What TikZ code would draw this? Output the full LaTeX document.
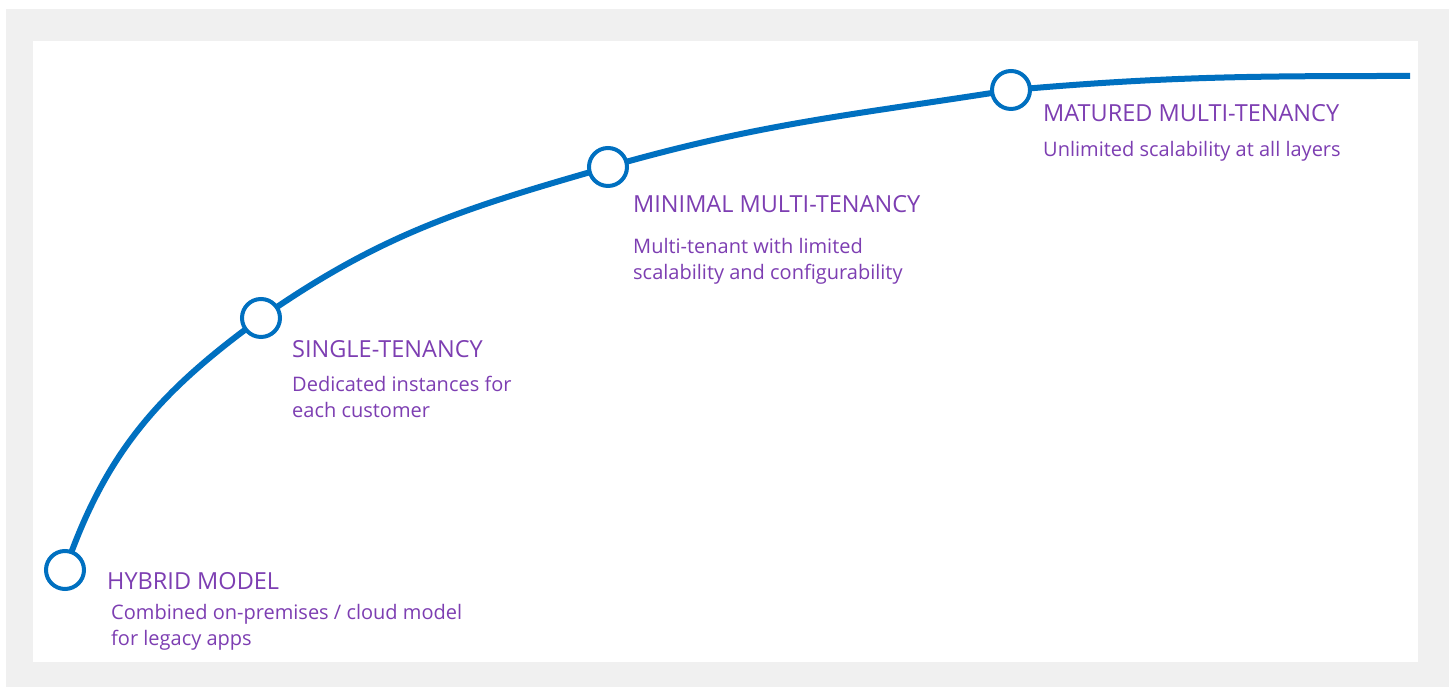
\documentclass[tikz,border=0pt]{standalone}
\usepackage{fontspec}
\setmainfont{Open Sans}
\definecolor{curveblue}{RGB}{0,112,192}
\definecolor{txtpurple}{RGB}{125,62,178}
\definecolor{bggray}{RGB}{240,240,240}
\tikzset{
  stage/.style={circle, draw=curveblue, line width=4pt, fill=white, minimum size=38pt, inner sep=0pt},
  title/.style={anchor=base west, inner sep=0pt, text=txtpurple, font=\fontsize{23.5}{26}\selectfont},
  desc/.style={anchor=base west, inner sep=0pt, text=txtpurple, align=left, font=\fontsize{20}{26}\selectfont},
  curve/.style={draw=curveblue, line width=6pt}
}
\begin{document}
\begin{tikzpicture}[x=1pt,y=1pt]
\useasboundingbox (0,0) rectangle (1449,687);
\fill[bggray] (6,0) rectangle (1449,678);
\fill[white] (33,25) rectangle (1418,646);
\coordinate (ph) at (65,117);
\coordinate (ps) at (261,369);
\coordinate (pm) at (608,520);
\coordinate (pt) at (1011,597);
\coordinate (pe) at (1410,611);
\draw[curve] (ph) to[out=71,in=216] (ps) to[out=35,in=196] (pm) to[out=16,in=189] (pt) to[out=5,in=180] (pe);
\node[stage] (h) at (ph) {};
\node[stage] (s) at (ps) {};
\node[stage] (m) at (pm) {};
\node[stage] (t) at (pt) {};
\node[title] (ht) at (107,97) {HYBRID MODEL};
\node[desc] (hd) at (111,41) {Combined on-premises / cloud model\\for legacy apps};
\node[title] (st) at (292,329) {SINGLE-TENANCY};
\node[desc] (sd) at (292,269) {Dedicated instances for\\each customer};
\node[title] (mt) at (633,474) {MINIMAL MULTI-TENANCY};
\node[desc] (md) at (633,407) {Multi-tenant with limited\\scalability and configurability};
\node[title] (tt) at (1043,565) {MATURED MULTI-TENANCY};
\node[desc] (td) at (1043,530) {Unlimited scalability at all layers};
\end{tikzpicture}
\end{document}
